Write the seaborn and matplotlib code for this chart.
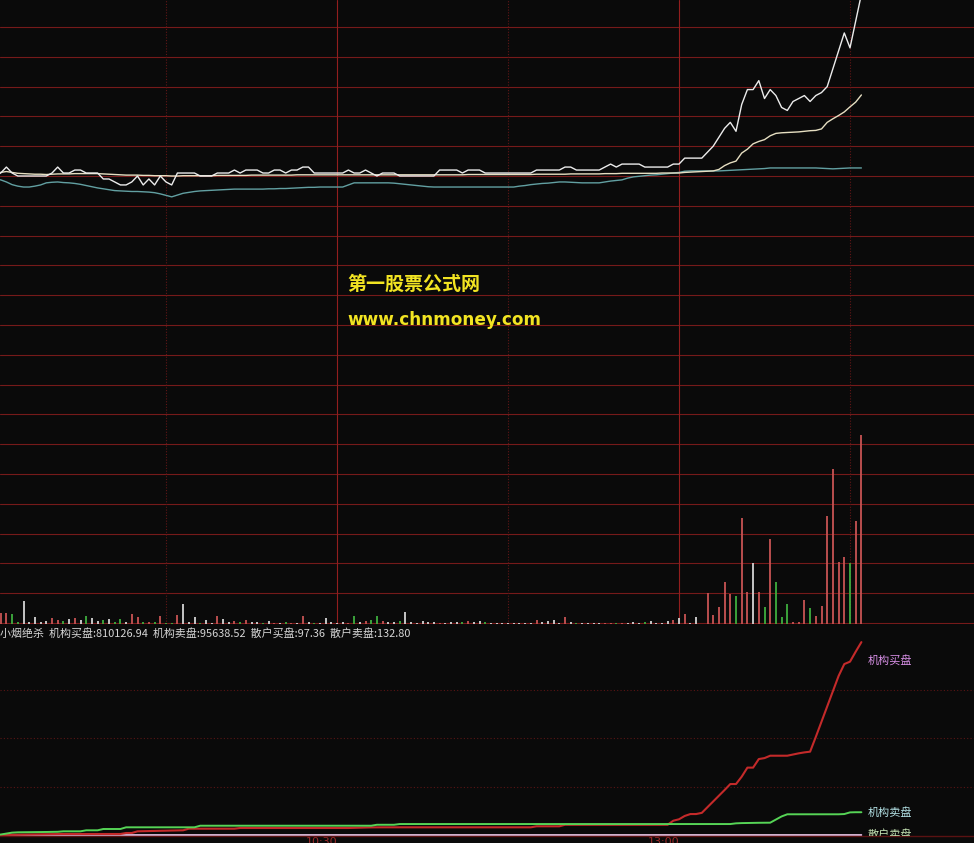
import numpy as np
import pandas as pd
import seaborn as sns
import matplotlib.pyplot as plt
from matplotlib import transforms

# region data
# one point per trading minute after 9:30 (lunch break skipped, so 120 = 13:00)
minutes = np.arange(153)

price = [
    10.00, 10.01, 10.03, 10.01, 10.00, 10.00, 10.00, 10.00, 10.00, 10.00,
    10.01, 10.03, 10.01, 10.01, 10.02, 10.02, 10.01, 10.01, 10.01, 9.99,
    9.99, 9.98, 9.97, 9.97, 9.98, 10.00, 9.97, 9.99, 9.97, 10.00,
    9.98, 9.97, 10.01, 10.01, 10.01, 10.01, 10.00, 10.00, 10.00, 10.01,
    10.01, 10.01, 10.02, 10.01, 10.02, 10.02, 10.02, 10.01, 10.01, 10.02,
    10.02, 10.01, 10.02, 10.02, 10.03, 10.03, 10.01, 10.01, 10.01, 10.01,
    10.01, 10.01, 10.02, 10.01, 10.01, 10.02, 10.01, 10.00, 10.01, 10.01,
    10.01, 10.00, 10.00, 10.00, 10.00, 10.00, 10.00, 10.00, 10.02, 10.02,
    10.02, 10.02, 10.01, 10.02, 10.02, 10.02, 10.01, 10.01, 10.01, 10.01,
    10.01, 10.01, 10.01, 10.01, 10.01, 10.02, 10.02, 10.02, 10.02, 10.02,
    10.03, 10.03, 10.02, 10.02, 10.02, 10.02, 10.02, 10.03, 10.04, 10.03,
    10.04, 10.04, 10.04, 10.04, 10.03, 10.03, 10.03, 10.03, 10.03, 10.04,
    10.04, 10.06, 10.06, 10.06, 10.06, 10.08, 10.10, 10.13, 10.16, 10.18,
    10.15, 10.24, 10.29, 10.29, 10.32, 10.26, 10.29, 10.27, 10.23, 10.22,
    10.25, 10.26, 10.27, 10.25, 10.27, 10.28, 10.30, 10.36, 10.42, 10.48,
    10.43, 10.52, 10.61,
]

avg_price = [
    10.010, 10.012, 10.015, 10.012, 10.009, 10.008, 10.007, 10.006, 10.006, 10.005,
    10.006, 10.007, 10.007, 10.007, 10.008, 10.008, 10.008, 10.008, 10.008, 10.007,
    10.006, 10.005, 10.004, 10.003, 10.003, 10.003, 10.002, 10.002, 10.001, 10.001,
    10.001, 10.000, 10.000, 10.001, 10.001, 10.001, 10.001, 10.001, 10.001, 10.002,
    10.002, 10.002, 10.002, 10.002, 10.002, 10.003, 10.003, 10.003, 10.003, 10.003,
    10.003, 10.003, 10.003, 10.004, 10.004, 10.004, 10.004, 10.004, 10.004, 10.004,
    10.004, 10.004, 10.004, 10.004, 10.004, 10.004, 10.004, 10.004, 10.004, 10.004,
    10.004, 10.004, 10.004, 10.004, 10.004, 10.004, 10.004, 10.004, 10.004, 10.004,
    10.004, 10.004, 10.004, 10.005, 10.005, 10.005, 10.005, 10.005, 10.005, 10.005,
    10.005, 10.005, 10.005, 10.005, 10.005, 10.006, 10.006, 10.006, 10.006, 10.006,
    10.006, 10.007, 10.007, 10.007, 10.007, 10.007, 10.007, 10.008, 10.008, 10.008,
    10.009, 10.009, 10.009, 10.009, 10.009, 10.009, 10.009, 10.010, 10.010, 10.010,
    10.010, 10.012, 10.013, 10.014, 10.015, 10.016, 10.017, 10.022, 10.035, 10.044,
    10.050, 10.077, 10.090, 10.108, 10.116, 10.122, 10.135, 10.143, 10.145, 10.146,
    10.147, 10.148, 10.150, 10.152, 10.153, 10.158, 10.180, 10.192, 10.203, 10.215,
    10.232, 10.248, 10.272,
]

lead_line = [
    9.990, 9.987, 9.980, 9.971, 9.966, 9.963, 9.963, 9.966, 9.970, 9.977,
    9.979, 9.980, 9.978, 9.977, 9.975, 9.972, 9.968, 9.964, 9.960, 9.957,
    9.954, 9.951, 9.950, 9.949, 9.948, 9.948, 9.947, 9.946, 9.944, 9.940,
    9.935, 9.930, 9.936, 9.942, 9.945, 9.948, 9.950, 9.951, 9.952, 9.953,
    9.954, 9.955, 9.956, 9.956, 9.956, 9.956, 9.956, 9.956, 9.957, 9.957,
    9.958, 9.958, 9.959, 9.960, 9.961, 9.962, 9.962, 9.963, 9.963, 9.963,
    9.963, 9.963, 9.970, 9.977, 9.977, 9.977, 9.977, 9.977, 9.977, 9.977,
    9.976, 9.974, 9.972, 9.970, 9.968, 9.966, 9.964, 9.963, 9.963, 9.963,
    9.963, 9.963, 9.963, 9.963, 9.963, 9.963, 9.963, 9.963, 9.963, 9.963,
    9.963, 9.963, 9.966, 9.968, 9.971, 9.973, 9.975, 9.976, 9.978, 9.980,
    9.980, 9.979, 9.978, 9.977, 9.977, 9.977, 9.977, 9.980, 9.983, 9.985,
    9.987, 9.993, 9.997, 9.999, 10.001, 10.003, 10.004, 10.006, 10.008, 10.010,
    10.012, 10.016, 10.017, 10.017, 10.017, 10.017, 10.017, 10.017, 10.018, 10.019,
    10.020, 10.021, 10.022, 10.023, 10.024, 10.025, 10.027, 10.027, 10.027, 10.027,
    10.027, 10.027, 10.027, 10.027, 10.027, 10.026, 10.025, 10.024, 10.025, 10.026,
    10.027, 10.027, 10.027,
]

volume = [
    1500, 1100, 1100, 1000, 200, 2300, 200, 700, 200, 300,
    600, 400, 300, 470, 600, 400, 800, 600, 300, 400,
    470, 200, 470, 200, 1000, 700, 200, 200, 200, 800,
    100, 100, 900, 2000, 200, 700, 100, 400, 100, 800,
    470, 200, 300, 200, 400, 200, 200, 100, 300, 100,
    100, 200, 100, 100, 800, 200, 100, 100, 600, 200,
    100, 200, 100, 800, 200, 300, 400, 800, 300, 200,
    200, 300, 1200, 200, 50, 300, 200, 200, 100, 50,
    200, 200, 200, 300, 200, 300, 200, 100, 100, 50,
    50, 50, 100, 100, 100, 400, 200, 300, 400, 100,
    700, 200, 100, 100, 100, 100, 100, 100, 100, 100,
    100, 50, 200, 100, 200, 300, 100, 50, 300, 400,
    600, 1000, 130, 700, 0, 3100, 900, 1700, 4200, 3000,
    2800, 10600, 3200, 6100, 3200, 1700, 8500, 4200, 700, 2000,
    200, 200, 2400, 1600, 800, 1800, 10800, 15500, 6200, 6700,
    6100, 10300, 18900,
]

inst_buy = [
    0, 0, 500, 1200, 1500, 1800, 2100, 2500, 2900, 3300,
    3700, 4100, 4200, 4200, 4200, 4200, 4200, 4200, 4200, 4200,
    4200, 4200, 4200, 8400, 8400, 15500, 16000, 16500, 17000, 17500,
    18000, 18500, 19000, 19700, 26500, 26500, 26500, 26500, 26500, 26500,
    26500, 26500, 26500, 29400, 29400, 29400, 29400, 29400, 29400, 29400,
    29400, 29400, 29400, 29400, 29400, 29400, 29400, 29400, 29400, 29400,
    29400, 29400, 29400, 30100, 30800, 31500, 32000, 32300, 32300, 32300,
    32300, 32300, 32300, 32300, 32300, 32300, 32300, 32300, 32300, 32300,
    32300, 32300, 32300, 32300, 32300, 32300, 32300, 32300, 32300, 32300,
    32300, 32300, 32300, 32300, 32300, 36500, 36500, 36500, 36500, 36500,
    43000, 43000, 43000, 43000, 43000, 43000, 43000, 43000, 43000, 43000,
    43000, 43000, 43000, 43000, 43000, 43000, 43000, 43000, 43000, 60000,
    66000, 80000, 88000, 88000, 93000, 117000, 141000, 165000, 189000, 214000,
    214000, 245000, 283000, 283000, 319000, 323000, 333000, 333000, 333000, 333000,
    338000, 343000, 347000, 350000, 412000, 476000, 540000, 604000, 668000, 718000,
    728000, 770000, 810126.94,
]

inst_sell = [
    0, 2000, 6000, 10000, 11300, 11500, 11800, 12100, 12400, 12700,
    13000, 13500, 15500, 15500, 15500, 15500, 19700, 19700, 19700, 25200,
    25200, 25200, 25200, 32300, 32300, 32300, 32300, 32300, 32300, 32300,
    32300, 32300, 32300, 32300, 32300, 32300, 39000, 39000, 39000, 39000,
    39000, 39000, 39000, 39000, 39000, 39000, 39000, 39000, 39000, 39000,
    39000, 39000, 39000, 39000, 39000, 39000, 39000, 39000, 39000, 39000,
    39000, 39000, 39000, 39000, 39000, 39000, 39000, 43000, 43000, 43000,
    43000, 46000, 46000, 46000, 46000, 46000, 46000, 46000, 46000, 46000,
    46000, 46000, 46000, 46000, 46000, 46000, 46000, 46000, 46000, 46000,
    46000, 46000, 46000, 46000, 46000, 46000, 46000, 46000, 46000, 46000,
    46000, 46000, 46000, 46000, 46000, 46000, 46000, 46000, 46000, 46000,
    46000, 46000, 46000, 46000, 46000, 46000, 46000, 46000, 46000, 46000,
    46000, 46000, 46000, 46000, 46000, 46000, 46000, 46000, 46000, 46000,
    49000, 50000, 50500, 51000, 51300, 51500, 51700, 65000, 78000, 87000,
    87000, 87000, 87000, 87000, 87000, 87000, 87000, 87000, 87000, 88000,
    95000, 95638.52, 95638.52,
]

retail_minutes = [0, 10, 20, 30, 40, 50, 60, 70, 80, 90, 100, 110, 120, 130, 140, 152]
retail_buy = [0, 5, 9, 14, 18, 22, 27, 31, 34, 38, 42, 47, 55, 68, 83, 97.36]
retail_sell = [0, 8, 15, 22, 30, 37, 44, 50, 57, 63, 70, 78, 88, 104, 118, 132.80]

time_ticks = [60, 120]
time_labels = ["10:30", "13:00"]
# endregion

BG = "#0a0a0a"
GRID = "#761a1a"
W, H = 974, 843
PX_PER_MIN, X0 = 5.7, -5          # minute 0 sits just left of the frame
XLIM = ((0 - X0) / PX_PER_MIN, (W - X0) / PX_PER_MIN)

sns.set_theme(style="dark", rc={"axes.facecolor": BG, "figure.facecolor": BG,
                                "axes.grid": False, "axes.edgecolor": BG})
plt.rcParams['font.family'] = ['Noto Sans CJK SC', 'DejaVu Sans']


def rect(top, bottom):
    """pixel rows -> add_axes rectangle spanning the full width"""
    return [0, 1 - bottom / H, 1, (bottom - top) / H]


fig = plt.figure(figsize=(W / 100, H / 100), dpi=100)

# ---- price + volume window
ax = fig.add_axes(rect(0, 624))
ax.set_xlim(*XLIM)
ax.set_ylim(10 - 448 / 298, 10 + 176 / 298)
ax.set_yticks(np.round(np.arange(8.5, 10.55, 0.1), 2))
ax.grid(axis="y", color=GRID, lw=0.8)
for m, solid in [(30, False), (60, True), (90, False), (120, True), (150, False)]:
    ax.axvline(m, color="#921e1e" if solid else "#601616", lw=0.8,
               ls="-" if solid else (0, (1, 1.5)), zorder=1)

df_top = pd.DataFrame({"minute": minutes, "price": price,
                       "avg": avg_price, "lead": lead_line})
sns.lineplot(data=df_top, x="minute", y="lead", ax=ax, color="#62a0a2", lw=1.0)
sns.lineplot(data=df_top, x="minute", y="avg", ax=ax, color="#e6dfc2", lw=1.0)
sns.lineplot(data=df_top, x="minute", y="price", ax=ax, color="#ececec", lw=1.0)

ax_vol = ax.twinx()
ax_vol.set_ylim(0, 62400)
step = np.sign(np.diff(np.array(price), prepend=price[0]))
bar_colors = np.where(step > 0, "#c85454", np.where(step < 0, "#3fae3f", "#d4d4d4"))
ax_vol.vlines(minutes, 0, volume, colors=bar_colors, lw=1.3)

for a in (ax, ax_vol):
    a.set_xlabel("")
    a.set_ylabel("")
    a.tick_params(length=0, labelleft=False, labelright=False, labelbottom=False)
    for s in a.spines.values():
        s.set_visible(False)

fig.text(347 / W, 1 - 284 / H, "第一股票公式网", color="#f2e422", fontsize=13.7,
         fontweight="bold", va="center", ha="left")
fig.text(347 / W, 1 - 320 / H, "www.chnmoney.com", color="#f2e422", fontsize=12.2,
         fontweight="bold", va="center", ha="left", family="DejaVu Sans")

# ---- indicator window
ax_b = fig.add_axes(rect(626, 836))
ax_b.set_xlim(*XLIM)
ax_b.set_ylim(-4200, 877800)
for v in (203000, 406000, 609000):
    ax_b.axhline(v, color="#5a1414", lw=0.8, ls=(0, (1, 2)))

df_bot = pd.DataFrame({"minute": minutes, "buy": inst_buy, "sell": inst_sell})
df_ret = pd.DataFrame({"minute": retail_minutes, "buy": retail_buy, "sell": retail_sell})
sns.lineplot(data=df_ret, x="minute", y="buy", ax=ax_b, color="#a848c0", lw=1.2)
sns.lineplot(data=df_ret, x="minute", y="sell", ax=ax_b, color="#dcc4d4", lw=1.2)
sns.lineplot(data=df_bot, x="minute", y="buy", ax=ax_b, color="#c42a2a", lw=1.5)
sns.lineplot(data=df_bot, x="minute", y="sell", ax=ax_b, color="#56d456", lw=1.4)

ax_b.set_xlabel("")
ax_b.set_ylabel("")
ax_b.set_yticks([])
ax_b.set_xticks(time_ticks)
ax_b.set_xticklabels(time_labels, color="#a02a2a", fontsize=8, ha="right",
                     family="DejaVu Sans")
ax_b.tick_params(axis="x", length=0, pad=1)
for name, s in ax_b.spines.items():
    s.set_visible(name == "bottom")
ax_b.spines["bottom"].set_color("#5a1212")
ax_b.spines["bottom"].set_linewidth(1.0)

header = (f"小烟绝杀  机构买盘:{inst_buy[-1]:.2f}  机构卖盘:{inst_sell[-1]:.2f}  "
          f"散户买盘:{retail_buy[-1]:.2f}  散户卖盘:{retail_sell[-1]:.2f}")
fig.text(0, 1 - 633 / H, header, color="#d6d6d6", fontsize=7.9,
         va="center", ha="left")

for series, label, color, dy in [(inst_buy, "机构买盘", "#d890e6", -18),
                                 (inst_sell, "机构卖盘", "#b4e2e6", 0),
                                 (retail_sell, "散户卖盘", "#c6e4b4", 0)]:
    tr = transforms.offset_copy(ax_b.transData, fig=fig, x=6, y=dy, units="dots")
    last_m = minutes[-1] if len(series) == len(minutes) else retail_minutes[-1]
    ax_b.text(last_m, series[-1], label, transform=tr, color=color, fontsize=8,
              va="center", ha="left", clip_on=True)

fig.savefig("out.png", dpi=100, facecolor=BG)
